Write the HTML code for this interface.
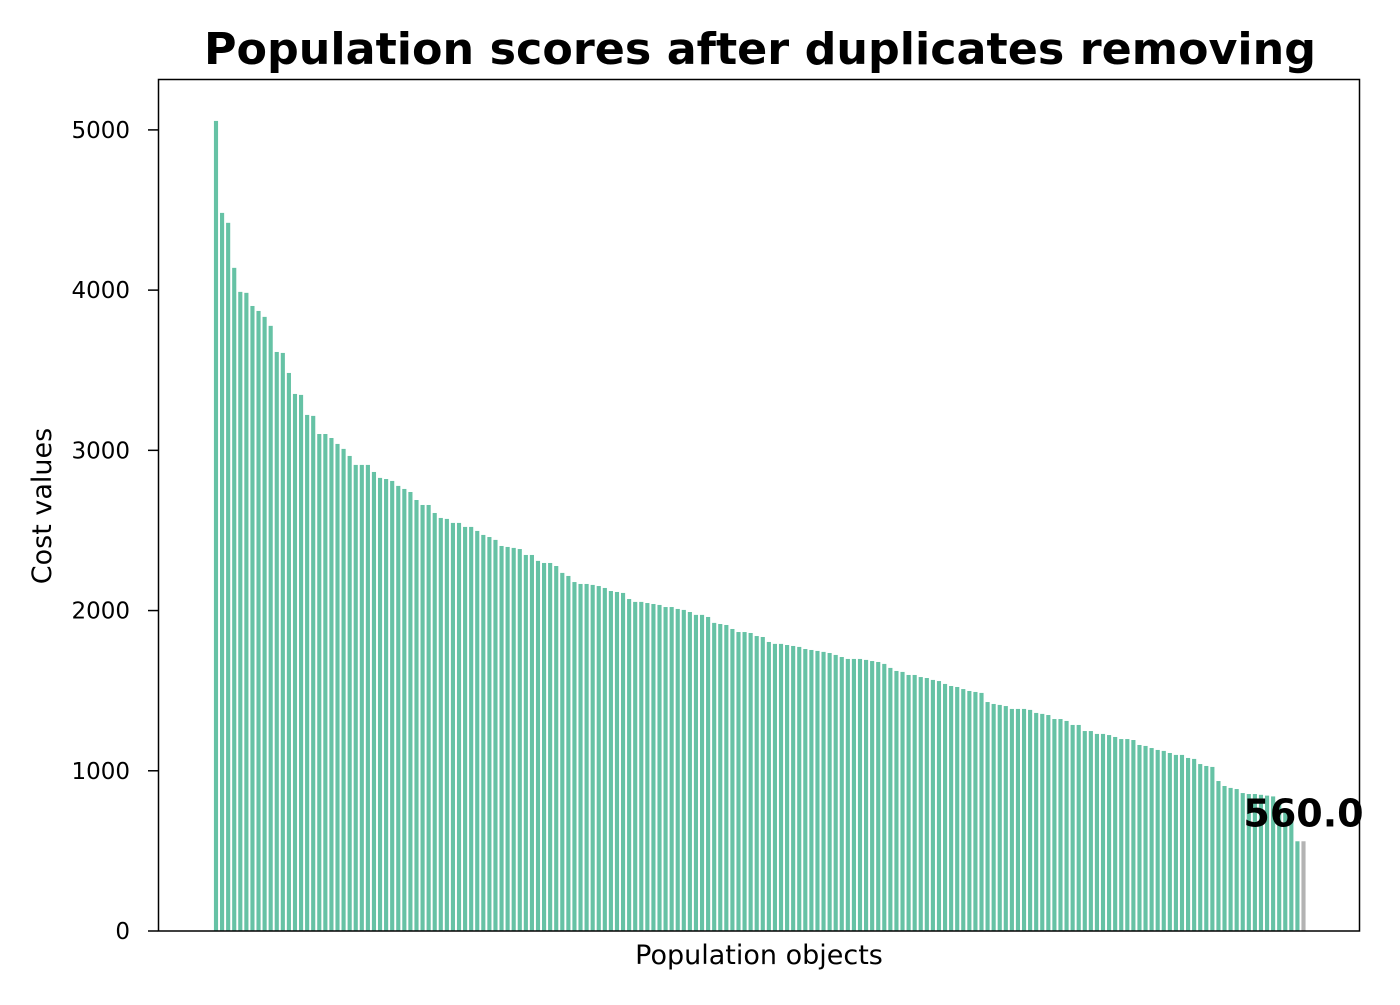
<!DOCTYPE html>
<html><head><meta charset="utf-8"><style>
body{margin:0;background:#fff;}
svg text{font-family:"DejaVu Sans","Liberation Sans",sans-serif;}
</style></head><body>
<svg id="chart" width="1400" height="1000" xmlns="http://www.w3.org/2000/svg">
<rect width="1400" height="1000" fill="#fff"/>
<text x="760" y="64" font-size="44" font-weight="bold" text-anchor="middle" textLength="1112" lengthAdjust="spacingAndGlyphs">Population scores after duplicates removing</text>
<g id="bars"></g>
<g id="yticks"></g>
<rect x="158.5" y="79.5" width="1201" height="851.5" fill="none" stroke="#000" stroke-width="1.5"/>
<text transform="translate(51,506) rotate(-90)" font-size="27" text-anchor="middle">Cost values</text>
<text x="759" y="964" font-size="27" text-anchor="middle">Population objects</text>
<g id="ann"></g>
</svg>
<script>
const values=[5056,4482,4420,4139,3989,3983,3901,3870,3833,3777,3614,3608,3483,3352,3346,3221,3215,3102,3102,3077,3040,3009,2965,2909,2909,2909,2865,2828,2821,2809,2778,
2759,2740,2690,2659,2659,2609,2578,2572,2547,2547,2522,2522,2497,2472,2459,2441,2403,2397,2391,2384,2347,2347,2310,2297,2297,2278,2235,2216,2178,2166,2166,2160,
2153,2141,2122,2116,2110,2072,2054,2054,2047,2041,2035,2022,2022,2010,2004,1991,1973,1973,1960,1923,1916,1910,1885,1866,1866,1860,1841,1835,1804,1792,1792,
1785,1779,1773,1760,1754,1748,1742,1735,1723,1710,1698,1698,1698,1692,1685,1679,1667,1642,1623,1617,1598,1598,1585,1579,1567,1560,1542,1529,1523,1510,1498,1492,
1486,1429,1417,1411,1404,1386,1386,1386,1380,1361,1355,1348,1323,1323,1311,1286,1286,1248,1248,1230,1230,1223,1211,1198,1198,1192,1161,1155,1142,1130,1124,
1111,1099,1099,1080,1074,1042,1030,1024,936,905,893,886,861,855,855,850,845,840,800,760,700,560,560];
const yTicks=[0,1000,2000,3000,4000,5000];
const annotation="560.0";
const NS="http://www.w3.org/2000/svg";
const y0=931,pxPer=0.16022;
function y(v){return y0-v*pxPer;}
const n=values.length;
const pitch=(1303.5-216)/179;
function x(i){return 216+i*pitch;}
const bw=pitch*0.68;
const bars=document.getElementById('bars');
values.forEach((v,i)=>{
 const r=document.createElementNS(NS,'rect');
 
 
 r.setAttribute('x',x(i)-bw/2);r.setAttribute('width',bw);
 r.setAttribute('y',y(v));r.setAttribute('height',y0-y(v));
 r.setAttribute('fill',i===n-1?'#b3b3b3':'#66c2a5');
 bars.appendChild(r);
});
const yt=document.getElementById('yticks');
yTicks.forEach(t=>{
 const l=document.createElementNS(NS,'line');
 
 
 l.setAttribute('x1',148);l.setAttribute('x2',158);l.setAttribute('y1',y(t));l.setAttribute('y2',y(t));
 l.setAttribute('stroke','#000');l.setAttribute('stroke-width','1.5');
 yt.appendChild(l);
 const tx=document.createElementNS(NS,'text');
 
 
 tx.setAttribute('x',130);tx.setAttribute('y',y(t)+8);
 tx.setAttribute('font-size','23');tx.setAttribute('text-anchor','end');
 tx.textContent=t;yt.appendChild(tx);
});
const a=document.createElementNS(NS,'text');


a.setAttribute('x',x(n-1));a.setAttribute('y',y(values[n-1])-15);
a.setAttribute('font-size','38');a.setAttribute('font-weight','bold');a.setAttribute('text-anchor','middle');
a.textContent=annotation;
document.getElementById('ann').appendChild(a);
</script>
</body></html>
